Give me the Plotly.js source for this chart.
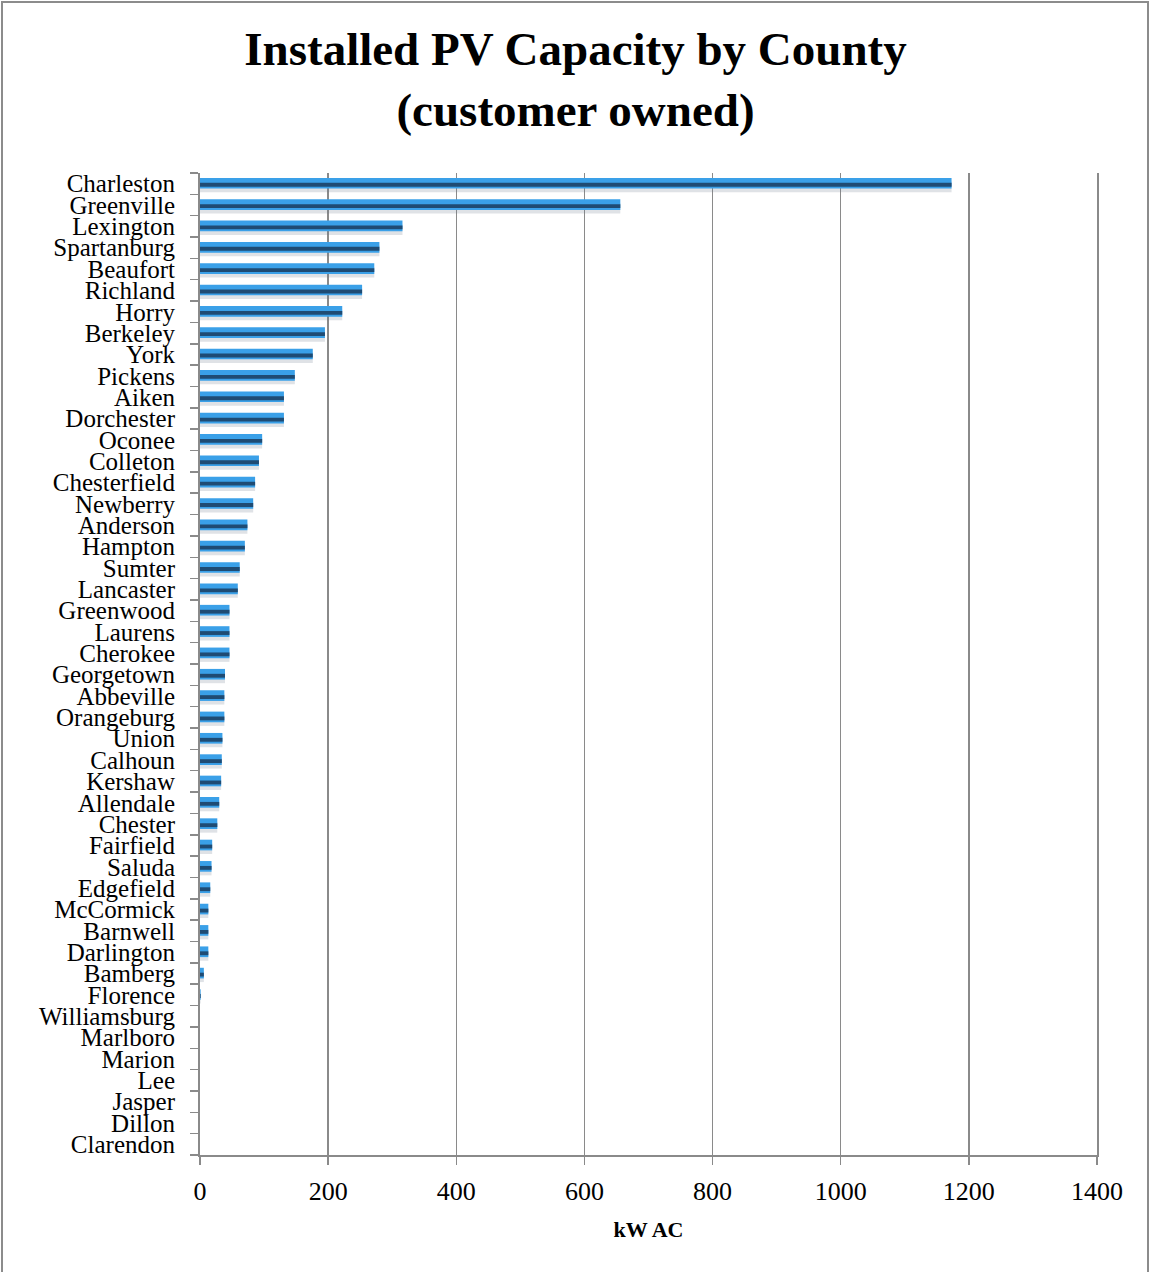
<!DOCTYPE html>
<html>
<head>
<meta charset="utf-8">
<script src="https://cdn.plot.ly/plotly-3.0.1.min.js"></script>
<style>
html,body{margin:0;padding:0;background:#fff;}
#frame{position:absolute;left:1px;top:1px;width:1148px;height:1290px;border:2px solid #8c8c8c;box-sizing:border-box;}
#chart{position:absolute;left:0;top:0;width:1151px;height:1272px;}
</style>
</head>
<body>
<div id="frame"></div>
<div id="chart"></div>
<script>
const counties = ["Charleston","Greenville","Lexington","Spartanburg","Beaufort","Richland","Horry","Berkeley","York","Pickens","Aiken","Dorchester","Oconee","Colleton","Chesterfield","Newberry","Anderson","Hampton","Sumter","Lancaster","Greenwood","Laurens","Cherokee","Georgetown","Abbeville","Orangeburg","Union","Calhoun","Kershaw","Allendale","Chester","Fairfield","Saluda","Edgefield","McCormick","Barnwell","Darlington","Bamberg","Florence","Williamsburg","Marlboro","Marion","Lee","Jasper","Dillon","Clarendon"];
const capacityKW = [1173,656,316,280,272,253,222,195,176,148,131,131,97,92,86,83,74,70,62,59,46,46,46,39,38,38,35,34,33,30,27,19,18,16,13,13,13,6,1,0,0,0,0,0,0,0];
const xTicks = [0,200,400,600,800,1000,1200,1400];
const chartTitle = "Installed PV Capacity by County<br>(customer owned)";
const xTitle = "kW AC";

const shadow = {type:"bar",orientation:"h",y:counties,x:capacityKW,marker:{color:"rgba(110,125,140,0.22)",line:{width:0}},offset:-0.1,width:0.5,hoverinfo:"skip",showlegend:false};
const light = {type:"bar",orientation:"h",y:counties,x:capacityKW,marker:{color:"#3aa0e8",line:{width:0}},offset:-0.27,width:0.5,showlegend:false};
const dark = {type:"bar",orientation:"h",y:counties,x:capacityKW,marker:{color:"#1f4b73",line:{width:0}},offset:-0.04,width:0.18,hoverinfo:"skip",showlegend:false};

const layout = {
  width:1151,height:1272,
  paper_bgcolor:"rgba(0,0,0,0)",plot_bgcolor:"#fff",
  margin:{l:200,r:54,t:173,b:117},
  barmode:"overlay",
  title:{text:chartTitle,x:0.5,xanchor:"center",xref:"container",yref:"container",y:0.949,yanchor:"middle",font:{family:"Liberation Serif, serif",size:47,color:"#000",weight:"bold"}},
  font:{family:"Liberation Serif, serif",color:"#000"},
  xaxis:{range:[0,1400],tickmode:"array",tickvals:xTicks,ticktext:xTicks.map(String),showgrid:true,gridcolor:"#8a8a8a",gridwidth:1.5,zeroline:false,showline:true,linecolor:"#8a8a8a",linewidth:2,ticks:"outside",ticklen:8,tickcolor:"#8a8a8a",tickwidth:1.5,tickfont:{size:26},ticklabelstandoff:4,
    title:{text:"<b>"+xTitle+"</b>",font:{size:22},standoff:16},fixedrange:true},
  yaxis:{type:"category",autorange:"reversed",tickmode:"array",tickvals:counties,ticktext:counties,tickson:"boundaries",ticks:"outside",ticklen:8,tickcolor:"#8a8a8a",tickwidth:1.5,showline:true,mirror:true,linecolor:"#8a8a8a",linewidth:2,showgrid:false,tickfont:{size:25},ticklabelstandoff:18,fixedrange:true}
};
Plotly.newPlot("chart",[shadow,light,dark],layout,{displayModeBar:false,staticPlot:true});
</script>
</body>
</html>
